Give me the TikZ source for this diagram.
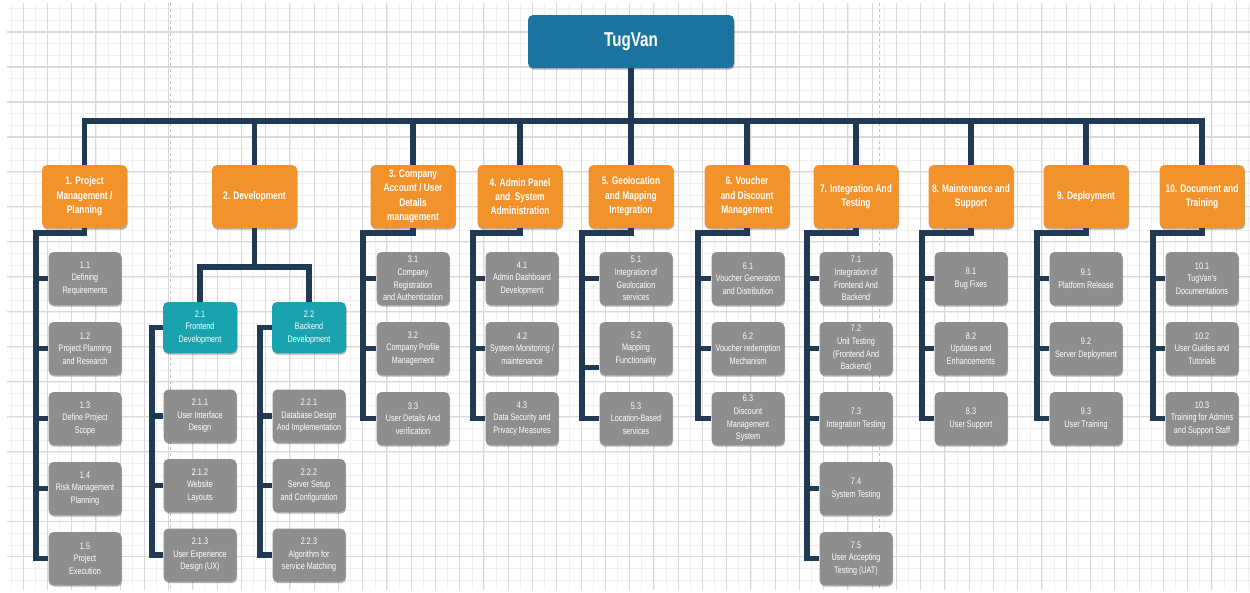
\documentclass[tikz,border=0pt]{standalone}
\usepackage{fontspec}
\newfontfamily\nar{Liberation Sans}[FakeStretch=0.76]
\usetikzlibrary{shadows}
\definecolor{rootblue}{HTML}{1B74A0}
\definecolor{phaseorange}{HTML}{F2922A}
\definecolor{subteal}{HTML}{19A3AF}
\definecolor{taskgray}{HTML}{8E8E8E}
\definecolor{wirenavy}{HTML}{1F3A52}
\definecolor{gridminor}{HTML}{F0F0F0}
\definecolor{gridmajor}{HTML}{D9D9D9}
\definecolor{pagebreak}{HTML}{C4C4C4}
\begin{document}
\begin{tikzpicture}[x=1pt,y=-1pt,
  box/.style={rounded corners=5pt, text=white, align=center, inner sep=1pt,
    drop shadow={shadow xshift=0.6pt, shadow yshift=-1.6pt, opacity=0.3, fill=black}},
  rootbox/.style={box, fill=rootblue, minimum width=206pt, minimum height=53pt,
    font=\nar\bfseries\fontsize{20}{24}\selectfont},
  phase/.style={box, fill=phaseorange, minimum width=85pt, minimum height=63pt,
    font=\nar\bfseries\fontsize{11}{14.4}\selectfont},
  subphase/.style={box, fill=subteal, minimum width=74pt, minimum height=51pt,
    font=\nar\fontsize{9.5}{12.6}\selectfont},
  task/.style={box, fill=taskgray, minimum width=73pt, minimum height=53pt,
    font=\nar\fontsize{9.5}{12.6}\selectfont},
  wire/.style={draw=wirenavy, line width=5.2pt, line join=miter},
  minorline/.style={draw=gridminor, line width=0.5pt},
  majorline/.style={draw=gridmajor, line width=0.9pt},
]
\useasboundingbox (0,0) rectangle (1250,592);
\fill[white] (0,0) rectangle (1250,592);

% background grid
\begin{scope}
  \clip (7,3) rectangle (1250,590);
  \foreach \i in {0,...,102} \draw[minorline] ({10.87+\i*12.13},3) -- ++(0,587);
  \foreach \i in {0,...,51} \draw[minorline] (7,{8.68+\i*11.66}) -- ++(1243,0);
  \foreach \i in {0,...,51} \draw[majorline] ({23+\i*24.26},3) -- ++(0,587);
  \foreach \i in {0,...,17} \draw[majorline, line width=1.2pt] (7,{32+\i*34.97}) -- ++(1243,0);
  \draw[pagebreak, dashed, line width=0.8pt] (170,3) -- (170,590);
  \draw[pagebreak, dashed, line width=0.8pt] (879,3) -- (879,590);
\end{scope}

% root and phases
\node[rootbox] (root) at (631,41.5) {TugVan};
\coordinate (bus) at (0,121);

\node[phase] (p1) at (84.5,196.5) {1. Project\\Management /\\Planning};
\node[phase] (p2) at (254.5,196.5) {2. Development};
\node[phase] (p3) at (413,196.5) {3. Company\\Account / User\\Details\\management};
\node[phase] (p4) at (520,196.5) {4. Admin Panel\\and\ \ System\\Administration};
\node[phase] (p5) at (631,196.5) {5. Geolocation\\and Mapping\\Integration};
\node[phase] (p6) at (747,196.5) {6. Voucher\\and Discount\\Management};
\node[phase] (p7) at (856,196.5) {7. Integration And\\Testing};
\node[phase] (p8) at (971,196.5) {8. Maintenance and\\Support};
\node[phase] (p9) at (1086,196.5) {9. Deployment};
\node[phase] (p10) at (1202,196.5) {10. Document and\\Training};

% 1
\node[task] (t11) at (85,278.5) {1.1\\Defining\\Requirements};
\node[task] (t12) at (85,348.5) {1.2\\Project Planning\\and Research};
\node[task] (t13) at (85,418.5) {1.3\\Define Project\\Scope};
\node[task] (t14) at (85,488.5) {1.4\\Risk Management\\Planning};
\node[task] (t15) at (85,558.5) {1.5\\Project\\Execution};
% 2
\node[subphase] (s21) at (200,327.5) {2.1\\Frontend\\Development};
\node[subphase] (s22) at (309,327.5) {2.2\\Backend\\Development};
\node[task] (t211) at (200,416) {2.1.1\\User Interface\\Design};
\node[task] (t212) at (200,485.5) {2.1.2\\Website\\Layouts};
\node[task] (t213) at (200,555) {2.1.3\\User Experience\\Design (UX)};
\node[task] (t221) at (309,416) {2.2.1\\Database Design\\And Implementation};
\node[task] (t222) at (309,485.5) {2.2.2\\Server Setup\\and Configuration};
\node[task] (t223) at (309,555) {2.2.3\\Algorithm for\\service Matching};
% 3
\node[task] (t31) at (413,278.5) {3.1\\Company\\Registration\\and Authentication};
\node[task] (t32) at (413,348.5) {3.2\\Company Profile\\Management};
\node[task] (t33) at (413,418.5) {3.3\\User Details And\\verification};
% 4
\node[task] (t41) at (522,278.5) {4.1\\Admin Dashboard\\Development};
\node[task] (t42) at (522,348.5) {4.2\\System Monitoring /\\maintenance};
\node[task] (t43) at (522,418.5) {4.3\\Data Security and\\Privacy Measures};
% 5
\node[task] (t51) at (636,278.5) {5.1\\Integration of\\Geolocation\\services};
\node[task] (t52) at (636,348.5) {5.2\\Mapping\\Functionality};
\node[task] (t53) at (636,418.5) {5.3\\Location-Based\\services};
% 6
\node[task] (t61) at (748,278.5) {6.1\\Voucher Generation\\and Distribution};
\node[task] (t62) at (748,348.5) {6.2\\Voucher redemption\\Mechanism};
\node[task] (t63) at (748,418.5) {6.3\\Discount\\Management\\System};
% 7
\node[task] (t71) at (856,278.5) {7.1\\Integration of\\Frontend And\\Backend};
\node[task] (t72) at (856,348.5) {7.2\\Unit Testing\\(Frontend And\\Backend)};
\node[task] (t73) at (856,418.5) {7.3\\Integration Testing};
\node[task] (t74) at (856,488.5) {7.4\\System Testing};
\node[task] (t75) at (856,558.5) {7.5\\User Accepting\\Testing (UAT)};
% 8
\node[task] (t81) at (971,278.5) {8.1\\Bug Fixes};
\node[task] (t82) at (971,348.5) {8.2\\Updates and\\Enhancements};
\node[task] (t83) at (971,418.5) {8.3\\User Support};
% 9
\node[task] (t91) at (1086,278.5) {9.1\\Platform Release};
\node[task] (t92) at (1086,348.5) {9.2\\Server Deployment};
\node[task] (t93) at (1086,418.5) {9.3\\User Training};
% 10
\node[task] (t101) at (1202,278.5) {10.1\\TugVan's\\Documentations};
\node[task] (t102) at (1202,348.5) {10.2\\User Guides and\\Tutorials};
\node[task] (t103) at (1202,418.5) {10.3\\Training for Admins\\and Support Staff};

% top bus
\draw[wire] (root.south) -- (root.south |- bus);
\draw[wire] (p1.north) -- (p1.north |- bus) -- (p10.north |- bus) -- (p10.north);
\foreach \p in {p2,p3,p4,p5,p6,p7,p8,p9}
  \draw[wire] (\p.north) -- (\p.north |- bus);

% elbow corners under each phase
\coordinate (j1) at (36,233);
\coordinate (j3) at (363,233);
\coordinate (j4) at (473,233);
\coordinate (j5) at (582,233);
\coordinate (j6) at (698,233);
\coordinate (j7) at (807,233);
\coordinate (j8) at (922,233);
\coordinate (j9) at (1037,233);
\coordinate (j10) at (1153,233);
\coordinate (j2) at (254.5,267);
\coordinate (j21) at (152,327.5);
\coordinate (j22) at (260,327.5);

% phase 1
\draw[wire] (p1.south) |- (j1) |- (t15.west);
\foreach \t in {t11,t12,t13,t14} \draw[wire] (j1) |- (\t.west);
% phase 2
\draw[wire] (p2.south) -- (j2);
\draw[wire] (s21.north) |- (j2) -| (s22.north);
\draw[wire] (s21.west) -- (j21) |- (t213.west);
\foreach \t in {t211,t212} \draw[wire] (j21) |- (\t.west);
\draw[wire] (s22.west) -- (j22) |- (t223.west);
\foreach \t in {t221,t222} \draw[wire] (j22) |- (\t.west);
% phase 3
\draw[wire] (p3.south) |- (j3) |- (t33.west);
\foreach \t in {t31,t32} \draw[wire] (j3) |- (\t.west);
% phase 4
\draw[wire] (p4.south) |- (j4) |- (t43.west);
\foreach \t in {t41,t42} \draw[wire] (j4) |- (\t.west);
% phase 5
\draw[wire] (p5.south) |- (j5) |- (t53.west);
\draw[wire] (j5) |- (t51.west);
\draw[wire] (j5) |- ([yshift=-19pt]t52.west);
% phase 6
\draw[wire] (p6.south) |- (j6) |- (t63.west);
\foreach \t in {t61,t62} \draw[wire] (j6) |- (\t.west);
% phase 7
\draw[wire] (p7.south) |- (j7) |- (t75.west);
\foreach \t in {t71,t72,t73,t74} \draw[wire] (j7) |- (\t.west);
% phase 8
\draw[wire] (p8.south) |- (j8) |- (t83.west);
\foreach \t in {t81,t82} \draw[wire] (j8) |- (\t.west);
% phase 9
\draw[wire] (p9.south) |- (j9) |- (t93.west);
\foreach \t in {t91,t92} \draw[wire] (j9) |- (\t.west);
% phase 10
\draw[wire] (p10.south) |- (j10) |- (t103.west);
\foreach \t in {t101,t102} \draw[wire] (j10) |- (\t.west);
\end{tikzpicture}
\end{document}
